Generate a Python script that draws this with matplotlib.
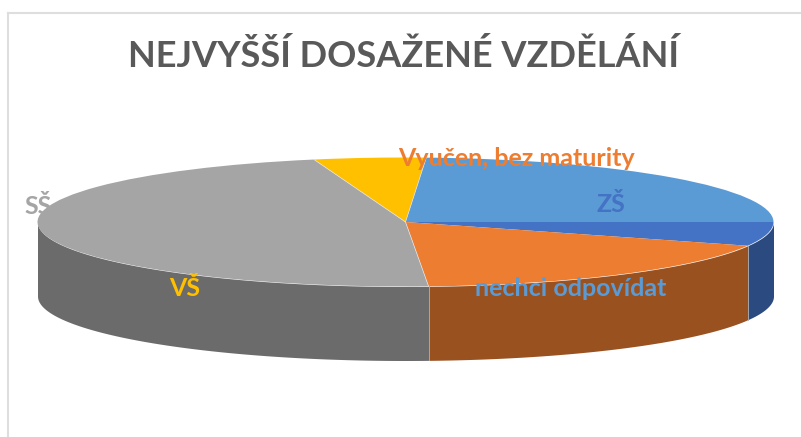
#!/usr/bin/python
import matplotlib
matplotlib.use('Agg')
import matplotlib.pyplot as plt
import numpy as np

plt.rcParams['font.family'] = ['Lato', 'DejaVu Sans']

labels = ['ZŠ', 'Vyučen, bez maturity', 'SŠ', 'VŠ', 'nechci odpovídat']
shares = [6.0, 18.0, 47.0, 4.9, 24.1]
colors = ['#4472C4', '#ED7D31', '#A5A5A5', '#FFC000', '#5B9BD5']
side_colors = ['#2B4A80', '#9A5120', '#6B6B6B', '#A67D00', '#3B6591']
title = 'NEJVYŠŠÍ DOSAŽENÉ VZDĚLÁNÍ'

W, H = 801, 437
CX, CY, RX, RY, DEPTH = 405.5, 222, 368, 64.5, 74

fig = plt.figure(figsize=(W / 100, H / 100), dpi=100)
ax = fig.add_axes([0, 0, 1, 1])

# pie on a unit circle, axis limits squash it into the tilted ellipse
ax.pie(shares, colors=colors, startangle=0, counterclock=False, radius=1,
       wedgeprops={'linewidth': 0, 'zorder': 3})
ax.set_aspect('auto')
ax.set_xlim(-CX / RX, (W - CX) / RX)
ax.set_ylim((CY - H) / RY, CY / RY)
ax.axis('off')

# side wall, only the front half shows
d = DEPTH / RY
edges = np.concatenate([[0], np.cumsum(shares)]) / sum(shares) * 360
for i in range(len(shares)):
    a0, a1 = edges[i], min(edges[i + 1], 180)
    if a0 >= 180:
        continue
    t = np.radians(np.linspace(a0, a1, 120))
    ax.fill_between(np.cos(t), -np.sin(t), -np.sin(t) - d,
                    color=side_colors[i], lw=0, zorder=2)
    if a0 > 0:
        ax.plot([np.cos(t[0])] * 2, [-np.sin(t[0]), -np.sin(t[0]) - d],
                color='#B0B0B0', lw=0.6, zorder=2.5)

# thin light seams between the slices on the top face
for i in (2, 3, 4):
    t = np.radians(edges[i])
    ax.plot([0, np.cos(t)], [0, -np.sin(t)], color='#E4E4E4', lw=0.5, zorder=4)

# outer chart frame
fig.add_artist(plt.Line2D([8 / W, 8 / W], [0, 1 - 12.5 / H], color='#DEDEDE', lw=1.5))
fig.add_artist(plt.Line2D([8 / W, 1], [1 - 12.5 / H] * 2, color='#DEDEDE', lw=1.5))

fig.text(403 / W, 1 - 56 / H, title, color='#595959', fontsize=26, fontweight='bold',
         ha='center', va='center')

label_pos = [(610.5, 204), (516.5, 159), (38, 207), (184.5, 288), (570.5, 288)]
for i, name in enumerate(labels):
    x, y = label_pos[i]
    ax.text(x / W, 1 - y / H, name, transform=ax.transAxes, color=colors[i], fontsize=18,
            fontweight='bold', ha='center', va='center', zorder=1 if name == 'SŠ' else 6)

plt.savefig('out.png', dpi=100)
plt.close(fig)
